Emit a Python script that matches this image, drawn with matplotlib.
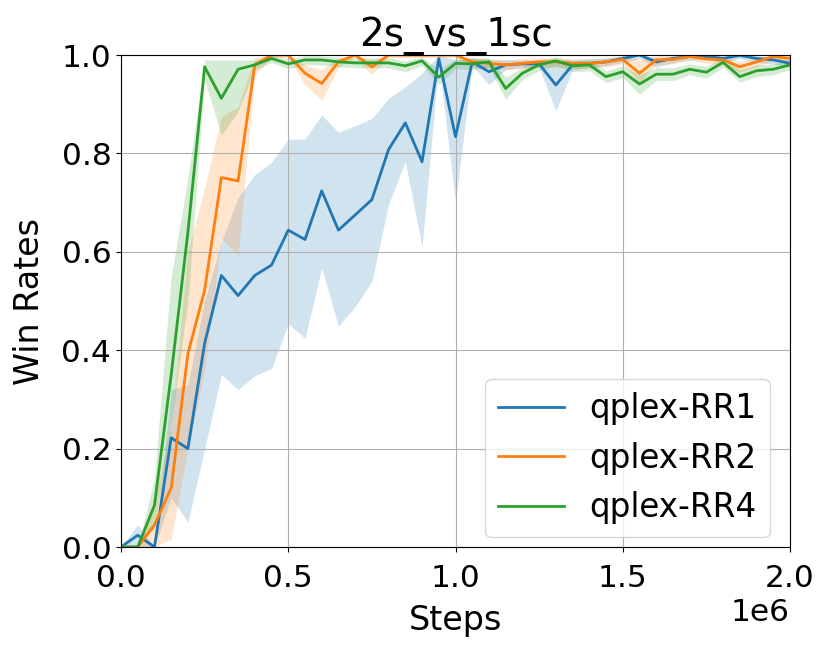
import matplotlib
matplotlib.use("Agg")
import matplotlib.pyplot as plt
import numpy as np

# evaluation every 50k steps, 0 .. 2e6
steps = np.arange(41) * 50000

rr1_mean = [0.0, 0.024, 0.0, 0.222, 0.200, 0.414, 0.552, 0.511, 0.552, 0.573,
            0.644, 0.625, 0.724, 0.644, 0.675, 0.706, 0.808, 0.862, 0.783, 0.993,
            0.834, 0.986, 0.966, 0.980, 0.982, 0.982, 0.939, 0.980, 0.983, 0.986,
            0.993, 1.000, 0.986, 0.993, 0.997, 0.997, 0.993, 0.999, 0.993, 0.990,
            0.983]
rr1_low = [0.0, 0.0, 0.0, 0.10, 0.05, 0.20, 0.35, 0.32, 0.348, 0.363,
           0.454, 0.424, 0.567, 0.449, 0.488, 0.540, 0.697, 0.784, 0.609, 0.985,
           0.700, 0.978, 0.940, 0.970, 0.975, 0.975, 0.886, 0.970, 0.975, 0.978,
           0.985, 0.993, 0.975, 0.985, 0.990, 0.990, 0.985, 0.993, 0.985, 0.982,
           0.975]
rr1_high = [0.0, 0.045, 0.0, 0.32, 0.33, 0.50, 0.62, 0.71, 0.757, 0.782,
            0.829, 0.829, 0.878, 0.843, 0.856, 0.871, 0.912, 0.935, 0.963, 1.0,
            0.990, 0.995, 0.990, 0.990, 0.990, 0.990, 0.990, 0.990, 0.992, 0.994,
            0.998, 1.0, 0.995, 0.998, 1.0, 1.0, 0.998, 1.0, 0.998, 0.996,
            0.990]

rr2_mean = [0.0, 0.0, 0.045, 0.12, 0.393, 0.522, 0.751, 0.744, 0.980, 1.0,
            1.0, 0.963, 0.942, 0.986, 1.0, 0.976, 1.0, 1.0, 1.0, 1.0,
            1.0, 0.986, 0.983, 0.980, 0.983, 0.986, 0.986, 0.983, 0.983, 0.986,
            0.991, 0.963, 0.990, 0.991, 0.997, 0.992, 0.990, 0.976, 0.986, 0.997,
            0.993]
rr2_low = [0.0, 0.0, 0.0, 0.016, 0.20, 0.36, 0.627, 0.593, 0.960, 0.995,
           0.995, 0.940, 0.908, 0.975, 0.995, 0.960, 0.995, 0.995, 0.995, 0.995,
           0.995, 0.975, 0.973, 0.970, 0.973, 0.976, 0.976, 0.973, 0.973, 0.976,
           0.982, 0.945, 0.980, 0.982, 0.990, 0.983, 0.980, 0.965, 0.976, 0.990,
           0.985]
rr2_high = [0.0, 0.0, 0.09, 0.25, 0.60, 0.73, 0.875, 0.895, 0.995, 1.0,
            1.0, 0.980, 0.970, 0.995, 1.0, 0.990, 1.0, 1.0, 1.0, 1.0,
            1.0, 0.994, 0.992, 0.990, 0.992, 0.994, 0.994, 0.992, 0.992, 0.994,
            0.998, 0.990, 0.998, 0.998, 1.0, 0.998, 0.998, 0.987, 0.994, 1.0,
            1.0]

rr4_mean = [0.0, 0.0, 0.085, 0.35, 0.64, 0.976, 0.912, 0.971, 0.980, 0.993,
            0.982, 0.990, 0.990, 0.986, 0.984, 0.984, 0.984, 0.978, 0.988, 0.955,
            0.983, 0.982, 0.986, 0.932, 0.963, 0.980, 0.988, 0.978, 0.980, 0.956,
            0.966, 0.941, 0.961, 0.961, 0.971, 0.965, 0.985, 0.956, 0.968, 0.971,
            0.980]
rr4_low = [0.0, 0.0, 0.04, 0.25, 0.50, 0.950, 0.837, 0.885, 0.970, 0.985,
           0.972, 0.980, 0.980, 0.976, 0.974, 0.974, 0.974, 0.966, 0.978, 0.940,
           0.972, 0.970, 0.975, 0.910, 0.950, 0.968, 0.978, 0.966, 0.968, 0.944,
           0.954, 0.920, 0.948, 0.948, 0.960, 0.953, 0.975, 0.945, 0.956, 0.960,
           0.970]
rr4_high = [0.0, 0.0, 0.14, 0.55, 0.75, 0.990, 0.990, 0.990, 0.990, 1.0,
            0.992, 0.998, 0.998, 0.995, 0.994, 0.994, 0.994, 0.988, 0.996, 0.970,
            0.992, 0.992, 0.995, 0.955, 0.975, 0.990, 0.996, 0.988, 0.990, 0.968,
            0.978, 0.960, 0.974, 0.974, 0.982, 0.977, 0.994, 0.970, 0.980, 0.982,
            0.990]

labels = ["qplex-RR1", "qplex-RR2", "qplex-RR4"]
colors = ["#1f77b4", "#ff7f0e", "#2ca02c"]

fig = plt.figure(figsize=(8.3, 6.54), dpi=100)
ax = fig.add_axes([0.1458, 0.1636, 0.806, 0.7523])

series = [(rr1_mean, rr1_low, rr1_high),
          (rr2_mean, rr2_low, rr2_high),
          (rr4_mean, rr4_low, rr4_high)]
for (m, lo, hi), lab, c in zip(series, labels, colors):
    ax.plot(steps, m, color=c, linewidth=2, label=lab)
    ax.fill_between(steps, lo, hi, color=c, alpha=0.2, linewidth=0)

ax.set_xlim(0, 2e6)
ax.set_ylim(0, 1.0)
ax.set_title("2s_vs_1sc", fontsize=28)
ax.set_xlabel("Steps", fontsize=24, labelpad=8)
ax.set_ylabel("Win Rates", fontsize=24, labelpad=11)
ax.tick_params(labelsize=22.5)
ax.tick_params(axis="x", pad=9)
ax.xaxis.get_offset_text().set_fontsize(22.5)
ax.grid(True)
ax.legend(loc="lower right", bbox_to_anchor=(0.97, 0.02), borderaxespad=0,
          fontsize=23.5)

fig.savefig("out.png", dpi=100)
